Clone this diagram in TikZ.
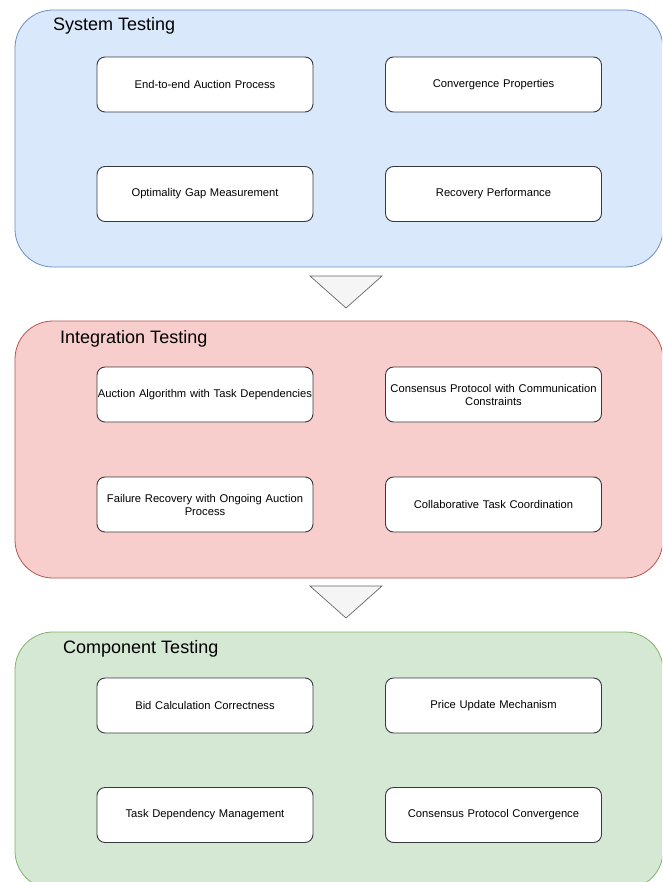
\documentclass[tikz,border=0pt]{standalone}
\usepackage{fontspec}
\setmainfont{Liberation Sans}
\definecolor{sysfill}{HTML}{DAE8FC}
\definecolor{sysline}{HTML}{6C8EBF}
\definecolor{intfill}{HTML}{F8CECC}
\definecolor{intline}{HTML}{B85450}
\definecolor{comfill}{HTML}{D5E8D4}
\definecolor{comline}{HTML}{82B366}
\definecolor{trifill}{HTML}{F5F5F5}
\definecolor{triline}{HTML}{666666}
\definecolor{boxline}{HTML}{36393D}
\begin{document}
\begin{tikzpicture}[x=1pt,y=-1pt,
  panel/.style={draw, line width=0.8pt, rounded corners=38pt, minimum width=648pt, minimum height=257pt, inner sep=0pt},
  title/.style={anchor=base west, inner sep=0pt, font=\fontsize{18}{21}\selectfont},
  testbox/.style={draw=boxline, fill=white, line width=0.9pt, rounded corners=8pt, minimum width=216pt, minimum height=55pt, inner sep=0pt, align=center, text width=216pt, font=\fontsize{11.2}{13}\selectfont},
  flowtri/.style={draw=triline, fill=trifill, line width=0.7pt, line join=miter}]
\useasboundingbox (0,0) rectangle (662,882);
\begin{scope}
\clip (0,0) rectangle (662,882);
% panels
\node[panel, draw=sysline, fill=sysfill] (sys) at (339,138.5) {};
\node[panel, draw=intline, fill=intfill] (int) at (339,449.5) {};
\node[panel, draw=comline, fill=comfill] (com) at (339,760.5) {};
\end{scope}
% titles
\node[title] (systitle) at (53,31) {System Testing};
\node[title] (inttitle) at (60,343) {Integration Testing};
\node[title] (comtitle) at (63,653) {Component Testing};
% system boxes
\node[testbox] (s1) at (205,84.5) {End-to-end Auction Process};
\node[testbox] (s2) at (493.5,84.5) {Convergence Properties};
\node[testbox] (s3) at (205,194) {Optimality Gap Measurement};
\node[testbox] (s4) at (493.5,194) {Recovery Performance};
% integration boxes
\node[testbox] (i1) at (205,394.5) {Auction Algorithm with Task Dependencies};
\node[testbox] (i2) at (493.5,394.5) {Consensus Protocol with Communication\\Constraints};
\node[testbox] (i3) at (205,504.5) {Failure Recovery with Ongoing Auction\\Process};
\node[testbox] (i4) at (493.5,504.5) {Collaborative Task Coordination};
% component boxes
\node[testbox] (c1) at (205,705.5) {Bid Calculation Correctness};
\node[testbox] (c2) at (493.5,705.5) {Price Update Mechanism};
\node[testbox] (c3) at (205,815) {Task Dependency Management};
\node[testbox] (c4) at (493.5,815) {Consensus Protocol Convergence};
% flow triangles
\draw[flowtri] (310,276) -- (382,276) -- (346,308) -- cycle;
\draw[flowtri] (310,586) -- (382,586) -- (346,618) -- cycle;
\end{tikzpicture}
\end{document}
